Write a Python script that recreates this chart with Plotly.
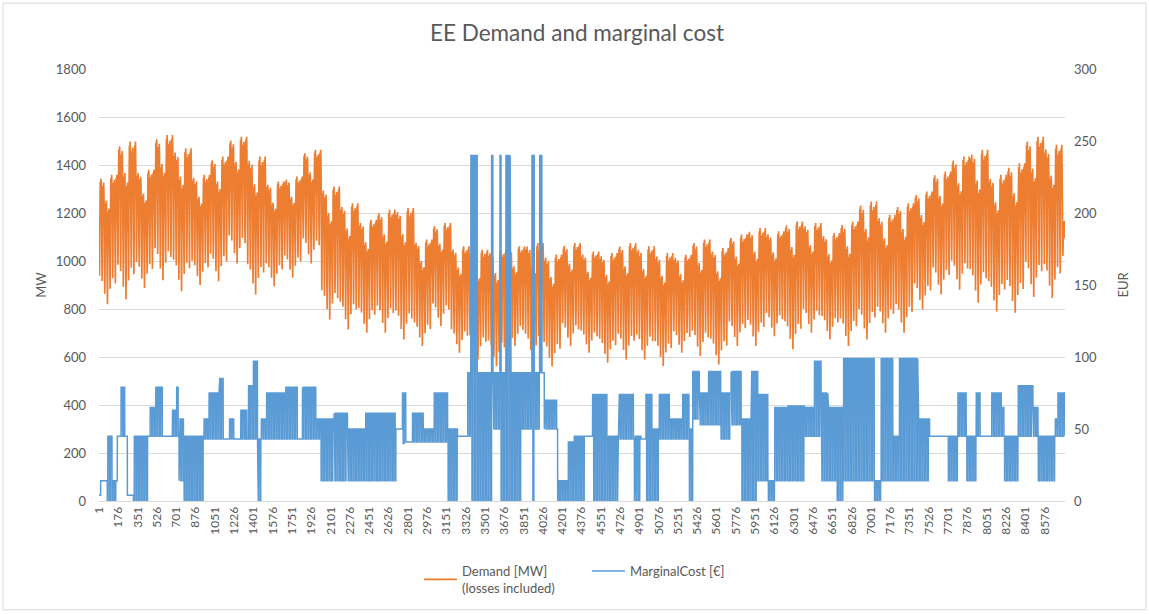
import plotly.graph_objects as go

# ---------------- data ----------------
# Weekly envelope of the hourly demand [MW] (week 0 = hours 1..168, ...)
demand_week_peak = [1359, 1498, 1380, 1525, 1470, 1359, 1435, 1518, 1435, 1331, 1352, 1463, 1310,
                    1241, 1172, 1214, 1221, 1089, 1158, 1061, 1047, 1047, 1061, 1075, 1027, 1075,
                    1040, 1033, 1075, 1061, 1033, 1026, 1089, 1054, 1110, 1137, 1124, 1165, 1158,
                    1117, 1165, 1248, 1193, 1241, 1290, 1373, 1435, 1463, 1359, 1407, 1518, 1484, 1172]
demand_week_low = [820, 840, 888, 920, 874, 900, 916, 990, 860, 895, 930, 990, 756,
                   715, 701, 701, 673, 646, 729, 618, 590, 562, 646, 590, 560, 646,
                   618, 576, 590, 590, 562, 618, 604, 569, 646, 646, 687, 632, 701,
                   673, 646, 673, 701, 701, 798, 860, 880, 826, 790, 784, 850, 846, 978]
# typical within-day shape (0 = night minimum, 1 = daily peak)
daily_shape = [0.35, 0.2, 0.1, 0.03, 0.0, 0.05, 0.25, 0.55, 0.8, 0.9, 0.95, 0.97,
               0.95, 0.93, 0.9, 0.88, 0.9, 0.95, 1.0, 0.98, 0.9, 0.8, 0.65, 0.5]
# day-of-week factors (Mon..Sun): daily peak and night trough as share of the weekly swing
weekday_peak = [1.0, 0.96, 1.0, 0.97, 0.94, 0.8, 0.74]
weekday_trough = [0.12, 0.2, 0.16, 0.22, 0.18, 0.08, 0.0]
first_weekday = 3  # the year starts on a Thursday

# Marginal cost [EUR]: piecewise segments starting at hour, with night / day level
mc_start = [0, 15, 75, 121, 166, 197, 233, 257, 312, 454, 515, 575, 666, 696, 726, 772,
            953, 998, 1089, 1135, 1180, 1225, 1286, 1340, 1356, 1395, 1437, 1467, 1512,
            1694, 1800, 1845, 1966, 2012, 2132, 2253, 2419, 2692, 2752, 2782, 2843, 2940,
            3040, 3161, 3251, 3342, 3372, 3433, 3553, 3572, 3636, 3654, 3690, 3730, 3826,
            3926, 3947, 3992, 3996, 4000, 4012, 4016, 4038, 4159, 4250, 4310, 4400, 4476,
            4613, 4703, 4855, 4915, 4960, 5021, 5081, 5172, 5293, 5354, 5384, 5444, 5520,
            5641, 5732, 5823, 5913, 5974, 6065, 6125, 6246, 6397, 6488, 6548, 6609, 6685,
            6745, 7033, 7093, 7199, 7259, 7426, 7532, 7698, 7789, 7864, 7955, 8000, 8091,
            8182, 8212, 8333, 8469, 8515, 8666, 8696]
mc_low = [4, 14, 0, 0, 45, 45, 45, 4, 0, 45, 45, 45, 45, 45, 14, 0,
          43, 43, 43, 43, 43, 43, 43, 43, 43, 43, 0, 43, 43,
          43, 43, 43, 43, 14, 14, 14, 14, 50, 40, 41, 41, 41,
          41, 0, 45, 45, 0, 0, 0, 50, 0, 0, 0, 0, 50,
          0, 50, 89, 240, 89, 240, 89, 50, 0, 0, 0, 45, 0,
          0, 43, 0, 43, 0, 0, 43, 43, 43, 0, 57, 53, 53,
          43, 53, 0, 0, 14, 0, 14, 14, 45, 45, 14, 14, 0,
          14, 0, 14, 14, 14, 14, 45, 14, 45, 14, 45, 45, 45,
          45, 14, 45, 45, 14, 45, 45]
mc_high = [4, 14, 45, 14, 45, 79, 45, 4, 45, 65, 79, 45, 63, 79, 57, 45,
           57, 75, 85, 43, 57, 43, 63, 43, 80, 97, 43, 57, 75,
           79, 43, 79, 57, 57, 61, 50, 61, 50, 75, 41, 61, 50,
           75, 50, 45, 89, 240, 89, 240, 89, 240, 89, 240, 89, 89,
           240, 89, 89, 240, 89, 240, 89, 70, 14, 41, 45, 45, 74,
           45, 74, 45, 43, 74, 50, 74, 57, 74, 50, 90, 75, 90,
           75, 90, 57, 90, 74, 14, 65, 66, 65, 97, 75, 65, 65,
           99, 14, 99, 45, 99, 57, 45, 45, 75, 45, 75, 45, 75,
           65, 45, 80, 65, 45, 57, 75]

x_ticks = list(range(1, 8577, 175))
n_hours = 8760

# ---------------- build hourly series from the read values ----------------
hours = list(range(1, n_hours + 1))
demand = []
for i in range(n_hours):
    w = min(i // 168, len(demand_week_peak) - 1)
    dow = (i // 24 + first_weekday) % 7
    hod = i % 24
    lo, hi = demand_week_low[w], demand_week_peak[w]
    trough = lo + (hi - lo) * weekday_trough[dow]
    peak = lo + (hi - lo) * weekday_peak[dow]
    demand.append(trough + (peak - trough) * daily_shape[hod])

mc = []
seg = 0
for i in range(n_hours):
    while seg + 1 < len(mc_start) and i >= mc_start[seg + 1]:
        seg += 1
    hod = i % 24
    mc.append(mc_high[seg] if 8 <= hod <= 21 else mc_low[seg])

# ---------------- figure ----------------
ORANGE = "#ED7D31"
BLUE = "#5B9BD5"
TXT = "#595959"
GRID = "#D9D9D9"
FONT = "Lato, Calibri, sans-serif"

fig = go.Figure()
fig.add_trace(go.Scatter(x=hours, y=demand, mode="lines", name="Demand [MW]<br>(losses included)",
                         line=dict(color=ORANGE, width=1.7), yaxis="y"))
fig.add_trace(go.Scatter(x=hours, y=mc, mode="lines", name="MarginalCost [€]",
                         line=dict(color=BLUE, width=1.5), yaxis="y2"))

W, H = 1149, 614
L, R, T, B = 99, 84, 69, 112
pw, ph = W - L - R, H - T - B

fig.update_layout(
    width=W, height=H,
    margin=dict(l=L, r=R, t=T, b=B),
    paper_bgcolor="white", plot_bgcolor="white",
    font=dict(family=FONT, color=TXT, size=13),
    title=dict(text="EE Demand and marginal cost", x=577 / W, xanchor="center",
               y=1 - 33 / H, yanchor="middle",
               font=dict(family=FONT, size=22.5, color=TXT)),
    xaxis=dict(range=[0.5, n_hours + 0.5], tickmode="array", tickvals=x_ticks,
               ticktext=[str(v) for v in x_ticks], tickangle=-90, showgrid=False, zeroline=False,
               showline=True, linecolor=GRID, ticks="", tickfont=dict(size=12, color=TXT)),
    yaxis=dict(range=[0, 1800], dtick=200, showgrid=True, gridcolor=GRID, gridwidth=1, zeroline=False,
               showline=False, ticks="", ticklabelstandoff=12,
               title=dict(text="MW", font=dict(size=13, color=TXT), standoff=6),
               tickfont=dict(size=13, color=TXT)),
    yaxis2=dict(range=[0, 300], dtick=50, overlaying="y", side="right", showgrid=False, zeroline=False,
                showline=False, ticks="", ticklabelstandoff=8,
                title=dict(text="EUR", font=dict(size=13, color=TXT), standoff=22),
                tickfont=dict(size=13, color=TXT)),
    legend=dict(orientation="h", x=(419 - L) / pw, xanchor="left", y=(502 - 556) / ph, yanchor="top",
                font=dict(size=13, color=TXT), entrywidth=120, entrywidthmode="pixels",
                itemwidth=33, tracegroupgap=0),
    showlegend=True,
)

# chart-area border
fig.add_shape(type="rect", xref="paper", yref="paper",
              x0=(3 - L) / pw, x1=(W - 3 - L) / pw, y0=(T + ph - (H - 3)) / ph, y1=(T + ph - 3) / ph,
              line=dict(color=GRID, width=1), fillcolor="rgba(0,0,0,0)", layer="below")

fig.write_html("out.html", config={"displayModeBar": False},
               post_script="document.body.style.margin='0';document.body.style.overflow='hidden';")
